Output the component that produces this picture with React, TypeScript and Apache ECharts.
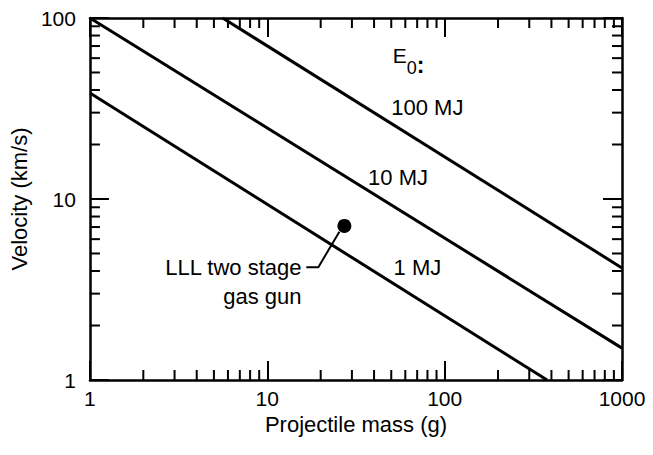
import React, { useEffect, useRef } from "react";
import * as echarts from "echarts";

// Axis ranges (log-log)
const massRange = [1, 1000];
const velocityRange = [1, 100];

// Energy lines, endpoints: [mass g, velocity km/s]
const line1MJ = [[1, 38.5], [378, 1]];
const line10MJ = [[1, 100], [1000, 1.5]];
const line100MJ = [[5.6, 100], [1000, 4.16]];

// LLL two-stage gas gun point and its leader line
const gasGunPoint = [[27.2, 7.1]];
const leaderLine = [[16.6, 4.2], [19.4, 4.2], [25.5, 6.6]];

// Minor tick positions
const xMinorTicks = [2, 3, 4, 5, 6, 7, 8, 9, 20, 30, 40, 50, 60, 70, 80, 90, 200, 300, 400, 500, 600, 700, 800, 900];
const yMinorTicks = [2, 3, 4, 5, 6, 7, 8, 9, 20, 30, 40, 50, 60, 70, 80, 90];

// Text annotations: anchor in data coords
const labelE0 = { at: [51, 62], side: "right" };
const label100 = { text: "100 MJ", at: [50, 32.2], side: "right" };
const label10 = { text: "10 MJ", at: [37, 13.2], side: "right" };
const label1 = { text: "1 MJ", at: [51.5, 4.16], side: "right" };
const labelGun1 = { text: "LLL two stage", at: [15.6, 4.2], side: "left" };
const labelGun2 = { text: "gas gun", at: [15.6, 2.88], side: "left" };

const FONT = '"Liberation Sans", Arial, Helvetica, sans-serif';
const INK = "#000";

export default function App() {
  const ref = useRef<HTMLDivElement>(null);

  useEffect(() => {
    if (!ref.current) return;
    const chart = echarts.init(ref.current, null, { renderer: "svg" });

    const tickData: number[][] = [];
    xMinorTicks.forEach((v) => {
      tickData.push([v, velocityRange[0], 0]);
      tickData.push([v, velocityRange[1], 1]);
    });
    yMinorTicks.forEach((v) => {
      tickData.push([massRange[0], v, 2]);
      tickData.push([massRange[1], v, 3]);
    });

    const textLabel = (l: any) => ({
      value: l.at,
      label: {
        show: true,
        position: l.side,
        distance: 0,
        formatter: l.text,
        fontFamily: FONT,
        fontSize: 22,
        color: INK,
      },
    });

    const axisCommon = {
      type: "log" as const,
      logBase: 10,
      axisLine: { show: true, lineStyle: { color: INK, width: 2.5 } },
      axisTick: { show: true, inside: true, length: 19, lineStyle: { color: INK, width: 2 } },
      splitLine: { show: false },
      minorTick: { show: false },
    };

    const plain = (v: number) => String(Math.round(v));

    chart.setOption({
      animation: false,
      backgroundColor: "#fff",
      grid: { left: 87, right: 31, top: 18, bottom: 75, containLabel: false },
      xAxis: [
        {
          ...axisCommon,
          min: massRange[0],
          max: massRange[1],
          position: "bottom",
          name: "Projectile mass (g)",
          nameLocation: "middle",
          nameGap: 32,
          nameTextStyle: { fontFamily: FONT, fontSize: 22, color: INK },
          axisLabel: { fontFamily: FONT, fontSize: 21, color: INK, margin: 8, formatter: plain },
        },
        {
          ...axisCommon,
          min: massRange[0],
          max: massRange[1],
          position: "top",
          axisLabel: { show: false },
        },
      ],
      yAxis: [
        {
          ...axisCommon,
          min: velocityRange[0],
          max: velocityRange[1],
          position: "left",
          name: "Velocity (km/s)",
          nameLocation: "middle",
          nameGap: 55,
          nameRotate: 90,
          nameTextStyle: { fontFamily: FONT, fontSize: 22, color: INK },
          axisLabel: { fontFamily: FONT, fontSize: 21, color: INK, margin: 14, formatter: plain },
        },
        {
          ...axisCommon,
          min: velocityRange[0],
          max: velocityRange[1],
          position: "right",
          axisLabel: { show: false },
        },
      ],
      series: [
        {
          type: "line",
          data: line1MJ,
          symbol: "none",
          lineStyle: { color: INK, width: 3 },
          clip: true,
        },
        {
          type: "line",
          data: line10MJ,
          symbol: "none",
          lineStyle: { color: INK, width: 3 },
          clip: true,
        },
        {
          type: "line",
          data: line100MJ,
          symbol: "none",
          lineStyle: { color: INK, width: 3 },
          clip: true,
        },
        {
          type: "line",
          data: leaderLine,
          symbol: "none",
          lineStyle: { color: INK, width: 2 },
        },
        {
          type: "scatter",
          data: gasGunPoint,
          symbol: "circle",
          symbolSize: 14,
          itemStyle: { color: INK, opacity: 1 },
        },
        {
          type: "scatter",
          symbolSize: 0,
          silent: true,
          itemStyle: { opacity: 1 },
          data: [
            {
              value: labelE0.at,
              label: {
                show: true,
                position: labelE0.side,
                distance: 0,
                formatter: "{e|E}{s|0}{c|:}",
                color: INK,
                rich: {
                  e: { fontFamily: FONT, fontSize: 21, color: INK, lineHeight: 42, verticalAlign: "middle" },
                  s: { fontFamily: FONT, fontSize: 18, color: INK, lineHeight: 15, verticalAlign: "bottom" },
                  c: { fontFamily: FONT, fontSize: 23, fontWeight: "bold", color: INK, lineHeight: 34, verticalAlign: "bottom" },
                },
              },
            },
            textLabel(label100),
            textLabel(label10),
            textLabel(label1),
            textLabel(labelGun1),
            textLabel(labelGun2),
          ],
        },
        {
          type: "custom",
          data: tickData,
          clip: false,
          silent: true,
          encode: { x: 0, y: 1 },
          renderItem: (_params: any, api: any) => {
            const p = api.coord([api.value(0), api.value(1)]);
            const d = api.value(2);
            const L = 10;
            let x2 = p[0];
            let y2 = p[1];
            if (d === 0) y2 -= L;
            else if (d === 1) y2 += L;
            else if (d === 2) x2 += L;
            else x2 -= L;
            return {
              type: "line",
              shape: { x1: p[0], y1: p[1], x2, y2 },
              style: { stroke: INK, lineWidth: 2 },
            };
          },
        },
      ],
    });

    return () => chart.dispose();
  }, []);

  return (
    <div
      ref={ref}
      style={{ position: "fixed", left: 0, top: 0, width: 653, height: 455, background: "#fff" }}
    />
  );
}
